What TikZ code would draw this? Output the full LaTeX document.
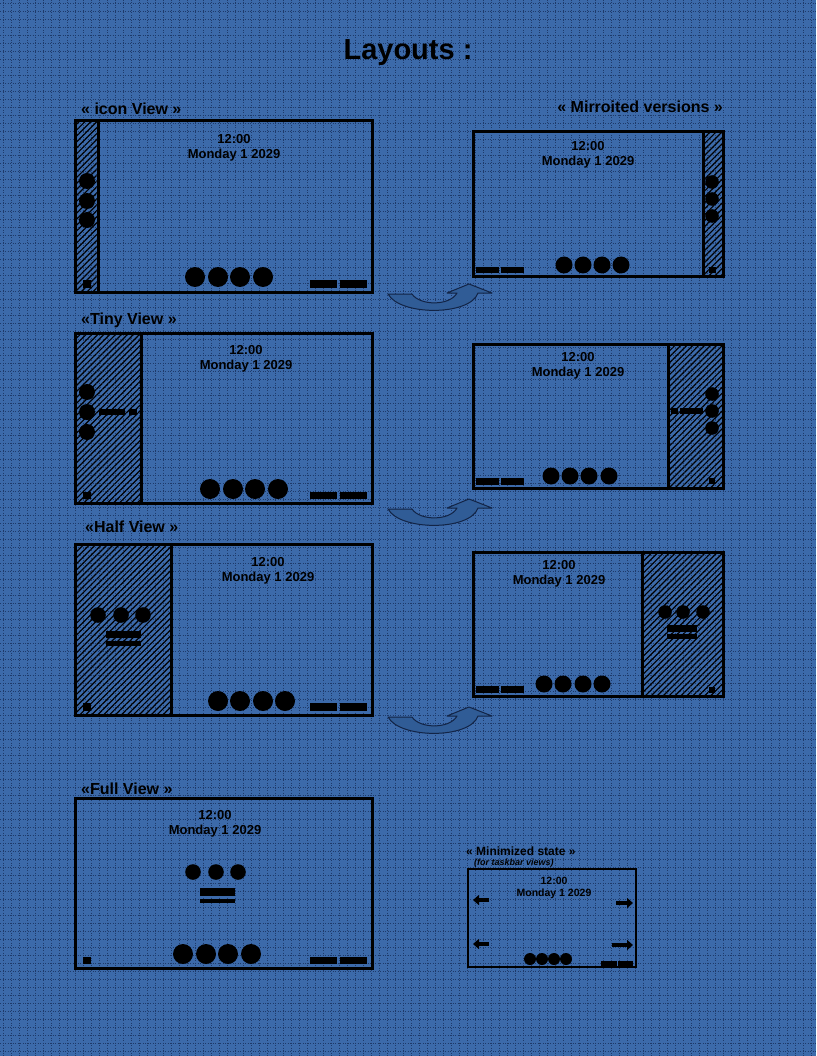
\documentclass[tikz,border=0pt]{standalone}
\usepackage{fontspec}
\setmainfont{Liberation Sans}
\usetikzlibrary{arrows.meta,patterns.meta}

\definecolor{deskblue}{RGB}{60,106,170}
\definecolor{gridblue}{RGB}{30,58,106}
\definecolor{swoopblue}{RGB}{48,92,150}
\definecolor{swoopedge}{RGB}{18,36,70}

\tikzset{
  screen/.style={draw=black, line width=3pt},
  panel/.style={draw=black, line width=3pt,
    pattern={Lines[angle=45,distance=4.2pt,line width=1.2pt]}, pattern color=black},
  clock/.style={font=\fontsize{13}{15}\selectfont\bfseries, align=center, inner sep=0pt},
  viewlabel/.style={font=\fontsize{16}{19}\selectfont\bfseries, anchor=west, inner sep=0pt},
  gridline/.style={gridblue, line width=0.8pt, dash pattern=on 1pt off 1.5pt},
  swoop/.style={fill=swoopblue, draw=swoopedge, line width=1pt, line join=round},
  flick/.style={-{Triangle[length=6pt,width=10pt]}, line width=3.5pt},
}

\begin{document}
\begin{tikzpicture}[x=1pt, y=-1pt]

			\useasboundingbox (0,0) rectangle (816,1056);
			\fill[deskblue] (0,0) rectangle (816,1056);
			\foreach \gx in {3,11,...,816} \draw[gridline] (\gx,0) -- (\gx,1056);
			\foreach \gy in {3,11,...,1056} \draw[gridline] (0,\gy) -- (816,\gy);

			\node[font=\fontsize{29}{34}\selectfont\bfseries] (title) at (408,53) {Layouts :};

			% icon view
			\node[viewlabel] (iconlbl) at (81,109) {« icon View »};
			\draw[panel] (75,121) rectangle (98,292);
			\draw[screen] (75,121) rectangle (372,292);
			\foreach \cy in {181,201,220} \fill (87,\cy) circle (8pt);
			\fill (83,280) rectangle (91,288);
			\foreach \cx in {195,218,240,263} \fill (\cx,277) circle (10pt);
			\fill (310,280) rectangle (337,288);
			\fill (340,280) rectangle (367,288);
			\node[clock] (iconclk) at (234,148) {12:00\\Monday 1 2029};

			% icon view, mirrored
			\node[viewlabel, anchor=east] (mirrlbl) at (723,107) {« Mirroited versions »};
			\draw[panel] (703,132) rectangle (723,277);
			\draw[screen] (473,132) rectangle (723,277);
			\foreach \cy in {182,199,216} \fill (712,\cy) circle (6.8pt);
			\fill (709,267) rectangle (716,273);
			\foreach \cx in {564,583,602,621} \fill (\cx,265) circle (8.5pt);
			\fill (476,267) rectangle (499,273);
			\fill (501,267) rectangle (524,273);
			\node[clock] (iconmclk) at (588,155) {12:00\\Monday 1 2029};

			% tiny view
			\node[viewlabel] (tinylbl) at (81,320) {«Tiny View »};
			\draw[panel] (75,333) rectangle (141,503);
			\draw[screen] (75,333) rectangle (372,503);
			\foreach \cy in {392,412,432} \fill (87,\cy) circle (8pt);
			\fill (99,409) rectangle (125,415);
			\fill (129,409) rectangle (137,415);
			\fill (83,492) rectangle (91,499);
			\foreach \cx in {210,233,255,278} \fill (\cx,489) circle (10pt);
			\fill (310,492) rectangle (337,499);
			\fill (340,492) rectangle (367,499);
			\node[clock] (tinyclk) at (246,359) {12:00\\Monday 1 2029};

			% tiny view, mirrored
			\draw[panel] (668,344) rectangle (723,488);
			\draw[screen] (473,344) rectangle (723,488);
			\foreach \cy in {394,411,428} \fill (712,\cy) circle (6.8pt);
			\fill (680,408) rectangle (703,414);
			\fill (671,408) rectangle (678,414);
			\fill (709,478) rectangle (715,484);
			\foreach \cx in {551,570,589,609} \fill (\cx,476) circle (8.5pt);
			\fill (476,478) rectangle (499,485);
			\fill (501,478) rectangle (524,485);
			\node[clock] (tinymclk) at (578,366) {12:00\\Monday 1 2029};

			% half view
			\node[viewlabel] (halflbl) at (85,527) {«Half View »};
			\draw[panel] (75,544) rectangle (171,715);
			\draw[screen] (75,544) rectangle (372,715);
			\foreach \cx in {98,121,143} \fill (\cx,615) circle (7.8pt);
			\fill (106,631) rectangle (141,638);
			\fill (106,641) rectangle (141,646);
			\fill (83,703) rectangle (91,711);
			\foreach \cx in {218,240,263,285} \fill (\cx,701) circle (10pt);
			\fill (310,703) rectangle (337,711);
			\fill (340,703) rectangle (367,711);
			\node[clock] (halfclk) at (268,571) {12:00\\Monday 1 2029};

			% half view, mirrored
			\draw[panel] (642,552) rectangle (723,696);
			\draw[screen] (473,552) rectangle (723,696);
			\foreach \cx in {665,683,703} \fill (\cx,612) circle (6.8pt);
			\fill (667,625) rectangle (697,632);
			\fill (667,634) rectangle (697,639);
			\fill (709,687) rectangle (715,693);
			\foreach \cx in {544,563,583,602} \fill (\cx,684) circle (8.5pt);
			\fill (476,686) rectangle (499,693);
			\fill (501,686) rectangle (524,693);
			\node[clock] (halfmclk) at (559,574) {12:00\\Monday 1 2029};

			% swap arrows
			\foreach \dy in {0,215,423} {
				\begin{scope}[shift={(0,\dy)}]
					\draw[swoop] (388,294) -- (412,294)
					.. controls (420,306) and (450,306) .. (457,293)
					-- (447,293) -- (469,284) -- (492,293) -- (478,293)
					.. controls (470,316) and (400,316) .. (388,294) -- cycle;
				\end{scope}
			}

			% full view
			\node[viewlabel] (fulllbl) at (81,789) {«Full View »};
			\draw[screen] (75,798) rectangle (372,968);
			\foreach \cx in {193,216,238} \fill (\cx,872) circle (7.8pt);
			\fill (200,888) rectangle (235,896);
			\fill (200,899) rectangle (235,903);
			\fill (83,957) rectangle (91,964);
			\foreach \cx in {183,206,228,251} \fill (\cx,954) circle (10pt);
			\fill (310,957) rectangle (337,964);
			\fill (340,957) rectangle (367,964);
			\node[clock] (fullclk) at (215,824) {12:00\\Monday 1 2029};

			% minimized
			\node[viewlabel, font=\fontsize{12}{14}\selectfont\bfseries] (minilbl) at (466,851) {« Minimized state »};
			\node[viewlabel, font=\fontsize{9}{11}\selectfont\bfseries\itshape] (mininote) at (474,863) {(for taskbar views)};
			\draw[screen, line width=2.5pt] (468,869) rectangle (636,967);
			\node[clock, font=\fontsize{10.5}{12}\selectfont\bfseries] (miniclk) at (554,888) {12:00\\Monday 1 2029};
			\coordinate (la1) at (489,900); \coordinate (la2) at (473,900);
			\coordinate (lb1) at (489,944); \coordinate (lb2) at (473,944);
			\coordinate (ra1) at (616,903); \coordinate (ra2) at (633,903);
			\coordinate (rb1) at (612,945); \coordinate (rb2) at (633,945);
			\draw[flick] (la1) -- (la2);
			\draw[flick] (lb1) -- (lb2);
			\draw[flick] (ra1) -- (ra2);
			\draw[flick] (rb1) -- (rb2);
			\foreach \cx in {530,542,554,566} \fill (\cx,959) circle (6pt);
			\fill (601,961) rectangle (617,966);
			\fill (618,961) rectangle (633,966);

\end{tikzpicture}
\end{document}
